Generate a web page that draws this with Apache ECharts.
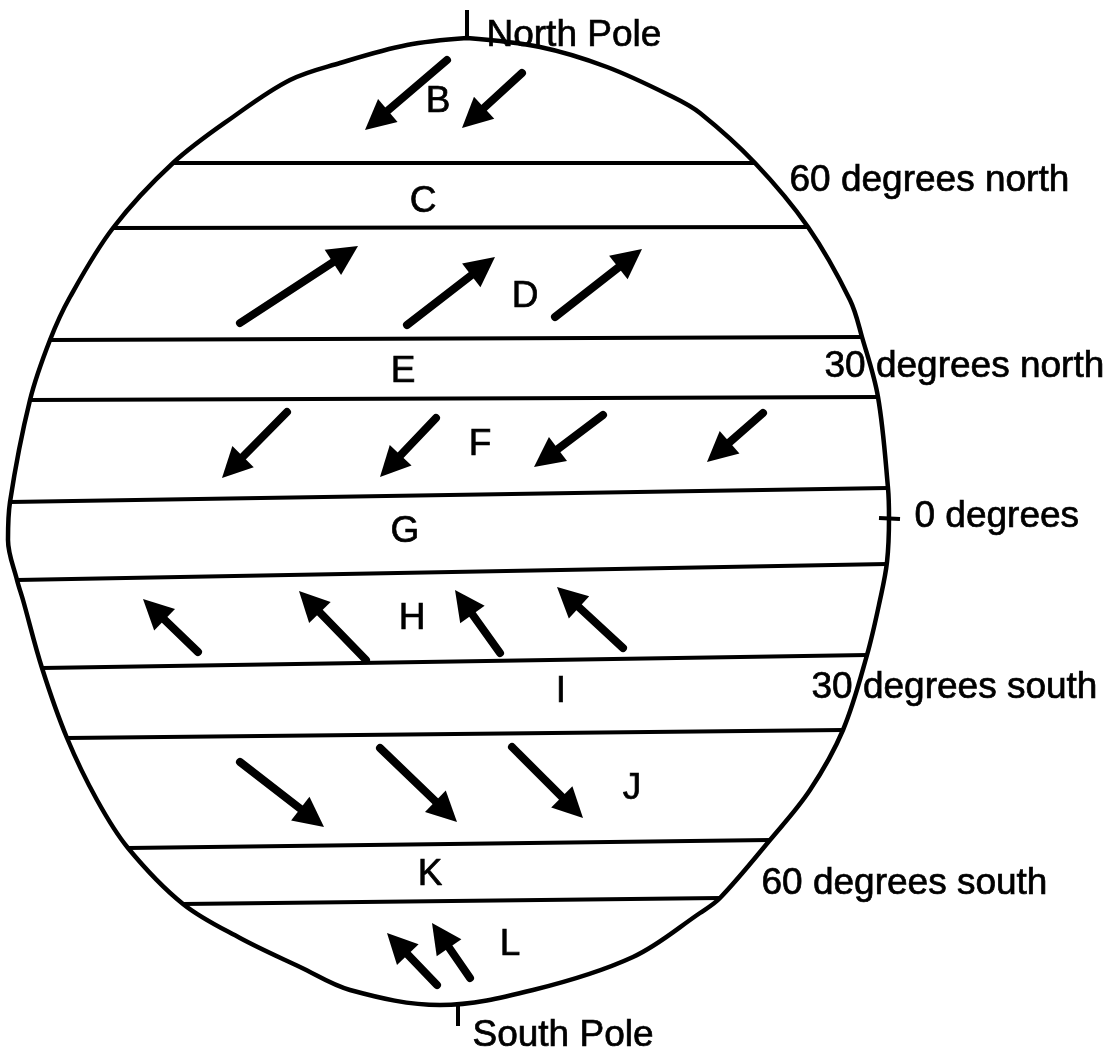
<!DOCTYPE html>
<html><head><meta charset="utf-8">
<script src="https://cdn.jsdelivr.net/npm/echarts@6/dist/echarts.min.js"></script>
<style>html,body{margin:0;padding:0;background:#fff}#c{width:1114px;height:1061px}</style>
</head><body><div id="c"></div>
<script>
// Globe outline (hand-drawn ellipse), in picture units (x right, y down)
const outline = [[467,38],[540,47],[607,67],[673,97],[700,113],[755,163],[808,227],[850,300],[862,337],[878,397],[888,488],[889,518],[887,562],[880,600],[867,655],[843,730],[810,790],[770,840],[720,898],[700,913],[633,957],[533,990],[440,1005],[350,990],[300,967],[240,938],[183,904],[128,848],[97,800],[67,738],[42,668],[23,600],[17,580],[8,540],[10,502],[30,400],[50,340],[70,297],[113,228],[173,163],[233,117],[290,80],[340,63],[407,45],[467,38]];
// Latitude band boundaries: [left end, right end]
const parallels = [
  [[173,163],[755,163]],
  [[113,228],[808,227]],
  [[50,340],[862,337]],
  [[30,400],[878,397]],
  [[10,502],[888,488]],
  [[17,580],[887,564]],
  [[42,668],[867,655]],
  [[67,738],[843,730]],
  [[128,848],[770,840]],
  [[183,904],[720,898]]
];
// Wind arrows: [tail, tip]
const windArrows = [
  [[447,60],[365,130]], [[522,73],[462,128]],
  [[240,323],[358,246]], [[407,325],[495,257]], [[555,317],[642,249]],
  [[287,412],[222,478]], [[436,418],[380,477]], [[603,415],[534,467]], [[763,413],[707,462]],
  [[198,652],[143,599]], [[366,660],[299,591]], [[500,653],[455,590]], [[623,648],[557,587]],
  [[240,762],[324,827]], [[380,748],[457,822]], [[512,747],[583,818]],
  [[437,985],[387,933]], [[470,978],[432,923]]
];
// Zone letters: [text, x, y]
const zoneLetters = [['B',438,100],['C',423,200],['D',525,295],['E',403,370],['F',480,443],['G',405,530],['H',412,617],['I',561,690],['J',632,787],['K',430,873],['L',510,943]];
// Latitude labels: [text, left x, y]
const latitudeLabels = [['North Pole',487,34],['60 degrees north',790,179],['30 degrees north',825,365],['0 degrees',915,515],['30 degrees south',812,686],['60 degrees south',762,882],['South Pole',473,1034]];
// Small tick marks (poles, equator)
const tickMarks = [[[467,10],[467,40]],[[879,518],[900,519]],[[458,1004],[458,1026]]];

const INK = '#000';
const FONT = "'Liberation Sans', Arial, sans-serif";
const HEAD_L = 30, HEAD_W = 28;

const arrowData = windArrows.map(([t, p]) => {
  const dx = p[0] - t[0], dy = p[1] - t[1], L = Math.hypot(dx, dy);
  return { coords: [t, [p[0] - dx / L * HEAD_L / 2, p[1] - dy / L * HEAD_L / 2]] };
});

const textStyle = {color: INK, fontSize: 37, fontFamily: FONT, textBorderColor: INK, textBorderWidth: 0.7, opacity: 1};

const chart = echarts.init(document.getElementById('c'), null, {renderer: 'canvas'});
chart.setOption({
  backgroundColor: '#fff',
  animation: false,
  grid: {left: 0, right: 0, top: 0, bottom: 0},
  xAxis: {type: 'value', min: 0, max: 1114, show: false},
  yAxis: {type: 'value', min: 0, max: 1061, inverse: true, show: false},
  series: [
    {
      type: 'line', data: outline, smooth: 0.35, symbol: 'none',
      lineStyle: {color: INK, width: 4.5, join: 'round'}
    },
    {
      type: 'lines', coordinateSystem: 'cartesian2d',
      data: parallels.map(c => ({coords: c})),
      symbol: 'none',
      lineStyle: {color: INK, width: 4, opacity: 1}
    },
    {
      type: 'lines', coordinateSystem: 'cartesian2d',
      data: tickMarks.map(c => ({coords: c})),
      symbol: 'none',
      lineStyle: {color: INK, width: 4, opacity: 1}
    },
    {
      type: 'lines', coordinateSystem: 'cartesian2d',
      data: arrowData,
      symbol: ['none', 'triangle'], symbolSize: [HEAD_W, HEAD_L],
      lineStyle: {color: INK, width: 8, opacity: 1, cap: 'round'},
      itemStyle: {color: INK}
    },
    {
      type: 'scatter', symbolSize: 1, itemStyle: {color: 'rgba(0,0,0,0)'},
      data: zoneLetters.map(d => ({name: d[0], value: [d[1], d[2]]})),
      label: Object.assign({show: true, position: 'inside', formatter: '{b}', offset: [0, 2]}, textStyle)
    },
    {
      type: 'scatter', symbolSize: 1, itemStyle: {color: 'rgba(0,0,0,0)'},
      data: latitudeLabels.map(d => ({name: d[0], value: [d[1], d[2]]})),
      label: Object.assign({show: true, position: [0, 0], align: 'left', verticalAlign: 'middle', formatter: '{b}', offset: [0, 2]}, textStyle)
    }
  ]
});
</script>
</body></html>
